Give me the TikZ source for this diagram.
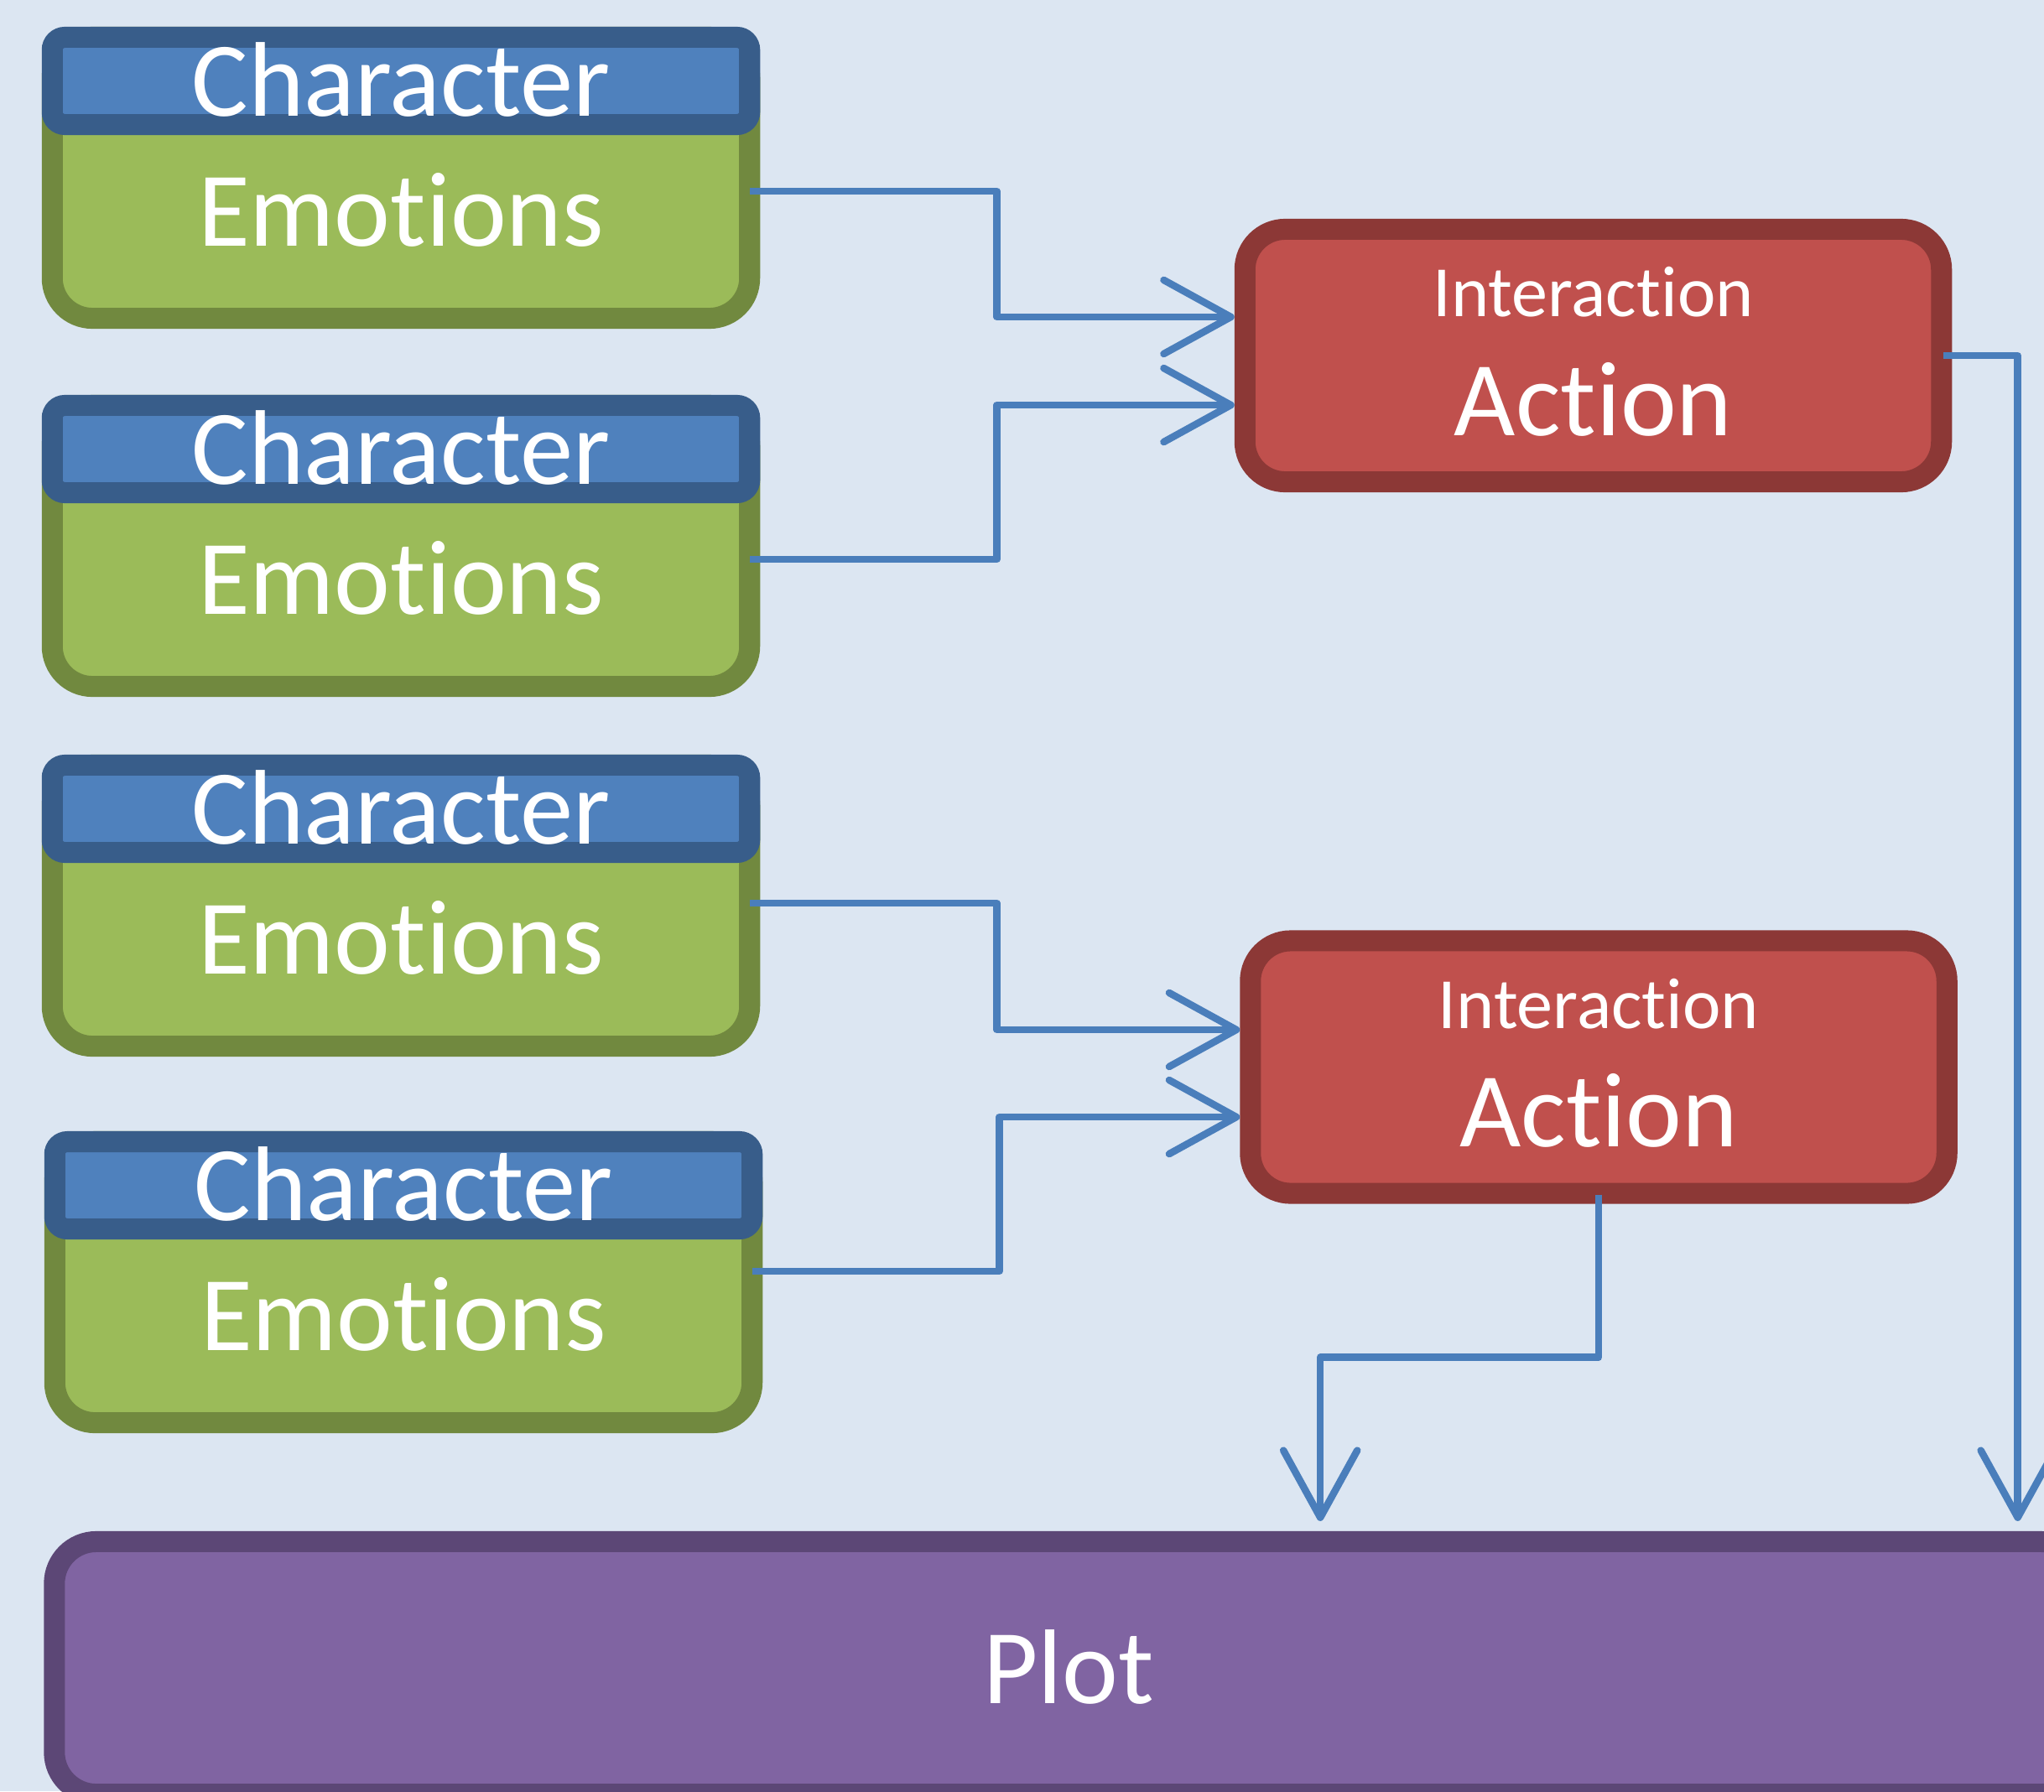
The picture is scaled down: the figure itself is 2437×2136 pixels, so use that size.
\documentclass[tikz,border=0pt]{standalone}
\usepackage{fontspec}
\setmainfont{Carlito}[Ligatures=NoCommon]
\usetikzlibrary{arrows.meta}

\definecolor{bgblue}{HTML}{DCE6F2}
\definecolor{emofill}{HTML}{9BBB59}
\definecolor{emoline}{HTML}{71893F}
\definecolor{headfill}{HTML}{4F81BD}
\definecolor{headline}{HTML}{385D8A}
\definecolor{actfill}{HTML}{C0504D}
\definecolor{actline}{HTML}{8C3836}
\definecolor{plotfill}{HTML}{8064A2}
\definecolor{plotline}{HTML}{5C4776}
\definecolor{wireblue}{HTML}{4A7EBB}

\begin{document}
\begin{tikzpicture}[x=0.01cm, y=-0.01cm, >={Straight Barb[length=0.8cm, width=0.88cm, round]},
    emobox/.style={draw=emoline, fill=emofill, line width=0.25cm, rounded corners=0.48cm,
        minimum width=8.31cm, minimum height=3.35cm, inner sep=0pt},
    headbox/.style={draw=headline, fill=headfill, line width=0.25cm, rounded corners=0.15cm,
        minimum width=8.31cm, minimum height=1.04cm, inner sep=0pt},
    actbox/.style={draw=actline, fill=actfill, line width=0.25cm, rounded corners=0.48cm,
        minimum width=8.3cm, minimum height=3.01cm, inner sep=0pt},
    plotbox/.style={draw=plotline, fill=plotfill, line width=0.25cm, rounded corners=0.5cm,
        minimum width=24.17cm, minimum height=3.01cm, inner sep=0pt},
    bigtext/.style={text=white, font=\fontsize{36}{40}\selectfont, inner sep=0pt, anchor=base},
    smalltext/.style={text=white, font=\fontsize{24.5}{28}\selectfont, inner sep=0pt, anchor=base},
    wire/.style={draw=wireblue, line width=0.085cm, line join=round, ->}]

    \useasboundingbox (0,0) rectangle (2437,2136);
    \clip (0,0) rectangle (2437,2136);
    \fill[bgblue] (0,0) rectangle (2437,2136);

    % characters
    \foreach \i/\cx/\top in {1/478/32, 2/478/471, 3/478/900, 4/481/1349} {
        \node[emobox] (emo\i) at (\cx,\top+180) {};
        \node[headbox] (head\i) at (\cx,\top+64.5) {};
        \node[bigtext] (chr\i) at (\cx,\top+106) {Character};
        \node[bigtext] (emt\i) at (\cx,\top+261) {Emotions};
    }

    % interactions
    \node[actbox] (act1) at (1899.5,424) {};
    \node[actbox] (act2) at (1906,1272.5) {};
    \foreach \j in {1,2} {
        \node[smalltext] (int\j) at ([yshift=-1.17cm]act\j.north) {Interaction};
        \node[bigtext] (actt\j) at ([yshift=-2.58cm]act\j.north) {Action};
    }

    % plot
    \node[plotbox] (plot) at (1274,1989) {};
    \node[bigtext] (plott) at ([yshift=-2.05cm]plot.north) {Plot};

    \foreach \i/\sy/\tgt/\ty in {1/-0.16/act1/0.46, 2/-0.16/act1/-0.59, 3/0.03/act2/0.445, 4/0.13/act2/-0.595}
        \draw[wire] ([xshift=-0.12cm, yshift=\sy cm]emo\i.east) -- +(2.94cm,0) |- ([yshift=\ty cm]\tgt.west);

    \draw[wire] ([xshift=-0.1cm]act1.east) -| ([xshift=11.31cm, yshift=0.12cm]plot.north);
    \draw[wire] ([yshift=0.11cm]act2.south) -- ++(0,-1.94cm) -| ([xshift=3cm, yshift=0.12cm]plot.north);
\end{tikzpicture}
\end{document}
